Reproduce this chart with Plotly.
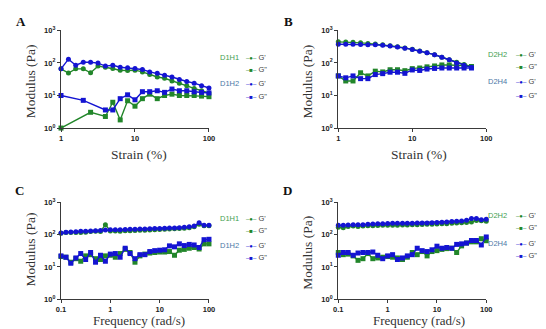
import plotly.graph_objects as go

# ---------------- data ----------------
strain_A = [1, 1.26, 1.58, 2, 2.51, 3.16, 3.98, 5.01, 6.31, 7.94, 10, 12.6, 15.8, 20, 25.1, 31.6, 39.8, 50.1, 63.1, 79.4, 100]
A_D1H1_Gp = [66, 49, 66, 66, 50, 80, 74, 68, 60, 59, 60, 53, 44, 37, 34, 28, 24, 20, 16.5, 14, 12]
A_D1H2_Gp = [66, 131, 85, 105, 105, 99, 80, 85, 74, 71, 68, 63, 53, 48, 42, 37, 31, 27, 24, 20, 17]
strain_A_D1H1_Gpp = [1, 2.51, 3.98, 5.01, 6.31, 7.94, 10, 12.6, 15.8, 20, 25.1, 31.6, 39.8, 50.1, 63.1, 79.4, 100]
A_D1H1_Gpp = [1.0, 3.05, 2.27, 6.2, 1.78, 6.9, 4.7, 8.0, 11, 8.0, 10, 11, 10, 10, 10, 9.6, 9.2]
strain_A_D1H2_Gpp = [1, 2, 3.98, 5.01, 6.31, 7.94, 10, 12.6, 15.8, 20, 25.1, 31.6, 39.8, 50.1, 63.1, 79.4, 100]
A_D1H2_Gpp = [10, 7.1, 3.6, 3.6, 8.0, 10.5, 7.4, 13.1, 13.1, 14, 12.5, 15.8, 14, 14, 13, 12.5, 12]

strain_B = [1, 1.26, 1.58, 2, 2.51, 3.16, 3.98, 5.01, 6.31, 7.94, 10, 12.6, 15.8, 20, 25.1, 31.6, 39.8, 50.1, 63.1]
B_D2H2_Gp = [445, 440, 430, 415, 400, 380, 360, 340, 315, 290, 265, 235, 205, 180, 150, 125, 105, 90, 78]
B_D2H2_Gpp = [40, 28, 28, 50, 40, 56, 53, 62, 62, 58, 67, 70, 76, 81, 87, 87, 87, 83, 78]
B_D2H4_Gp = [375, 375, 375, 370, 365, 360, 350, 330, 310, 285, 260, 230, 205, 180, 150, 125, 100, 85, 72]
B_D2H4_Gpp = [40, 35, 40, 33, 33, 44, 47, 52, 52, 48, 61, 59, 65, 68, 70, 70, 70, 70, 70]

freq = [0.1, 0.126, 0.158, 0.2, 0.251, 0.316, 0.398, 0.501, 0.631, 0.794, 1, 1.26, 1.58, 2, 2.51, 3.16, 3.98,
        5.01, 6.31, 7.94, 10, 12.6, 15.8, 20, 25.1, 31.6, 39.8, 50.1, 63.1, 79.4, 100]
C_D1H1_Gp = [110, 118, 118, 117, 118, 120, 125, 128, 125, 205, 130, 130, 128, 132, 132, 135, 138, 138, 140, 142,
             145, 148, 150, 152, 155, 158, 165, 175, 210, 190, 188]
C_D1H2_Gp = [112, 120, 122, 123, 127, 128, 130, 132, 135, 140, 142, 142, 143, 145, 147, 148, 150, 150, 152, 155,
             155, 158, 160, 162, 165, 170, 175, 185, 235, 195, 195]
C_D1H1_Gpp = [21, 20, 14, 18, 15, 22, 24, 18, 17, 22, 23, 20, 26, 35, 28, 14, 22, 25, 27, 28, 29, 29, 30, 23, 33,
              35, 38, 40, 36, 52, 52]
C_D1H2_Gpp = [22, 20, 13, 19, 26, 17, 28, 14, 23, 15, 25, 26, 20, 38, 26, 18, 24, 24, 30, 32, 33, 34, 45, 42, 52,
              46, 50, 48, 40, 70, 72]

D_D2H2_Gp = [170, 165, 180, 185, 180, 185, 190, 190, 192, 195, 195, 198, 198, 200, 200, 205, 205, 208, 210, 212,
             215, 218, 220, 225, 230, 235, 240, 250, 275, 270, 260]
D_D2H4_Gp = [195, 195, 200, 205, 205, 205, 210, 215, 218, 220, 222, 225, 225, 228, 228, 228, 230, 230, 232, 235,
             240, 245, 250, 255, 260, 265, 280, 320, 320, 290, 300]
D_D2H2_Gpp = [28, 24, 25, 22, 16, 18, 26, 18, 19, 20, 21, 20, 19, 17, 20, 28, 24, 30, 22, 30, 32, 35, 37, 38, 28,
              45, 55, 60, 60, 75, 65]
D_D2H4_Gpp = [23, 28, 28, 23, 27, 28, 28, 29, 23, 18, 22, 24, 17, 19, 22, 24, 38, 32, 30, 34, 44, 38, 40, 38, 50,
              52, 55, 66, 66, 48, 85]

y_tickvals = [1, 10, 100, 1000]
y_ticktext = ["10<sup>0</sup>", "10<sup>1</sup>", "10<sup>2</sup>", "10<sup>3</sup>"]
strain_ticks = [1, 10, 100]
strain_ticktext = ["1", "10", "100"]
freq_ticks = [0.1, 1, 10, 100]
freq_ticktext = ["0.1", "1", "10", "100"]

# ---------------- style ----------------
W, H = 546, 329
GREEN = "#22862a"
BLUE = "#1414d2"
LBL_GREEN = "#3f9e4f"
LBL_BLUE = "#4a78a6"
AXC = "#3a3a3a"

def px_x(p):
    return p / W

def px_y(p):
    return 1 - p / H

fig = go.Figure()

def add_series(x, y, color, symbol, xa, ya):
    fig.add_trace(go.Scatter(
        x=x, y=y, mode="lines+markers", xaxis=xa, yaxis=ya,
        line=dict(color=color, width=1.4),
        marker=dict(color=color, symbol=symbol, size=5),
        cliponaxis=False, showlegend=False, hoverinfo="skip"))

# Panel A
add_series(strain_A, A_D1H1_Gp, GREEN, "circle", "x", "y")
add_series(strain_A_D1H1_Gpp, A_D1H1_Gpp, GREEN, "square", "x", "y")
add_series(strain_A, A_D1H2_Gp, BLUE, "circle", "x", "y")
add_series(strain_A_D1H2_Gpp, A_D1H2_Gpp, BLUE, "square", "x", "y")
# Panel B
add_series(strain_B, B_D2H2_Gp, GREEN, "circle", "x2", "y2")
add_series(strain_B, B_D2H2_Gpp, GREEN, "square", "x2", "y2")
add_series(strain_B, B_D2H4_Gp, BLUE, "circle", "x2", "y2")
add_series(strain_B, B_D2H4_Gpp, BLUE, "square", "x2", "y2")
# Panel C
add_series(freq, C_D1H1_Gp, GREEN, "circle", "x3", "y3")
add_series(freq, C_D1H1_Gpp, GREEN, "square", "x3", "y3")
add_series(freq, C_D1H2_Gp, BLUE, "circle", "x3", "y3")
add_series(freq, C_D1H2_Gpp, BLUE, "square", "x3", "y3")
# Panel D
add_series(freq, D_D2H2_Gp, GREEN, "circle", "x4", "y4")
add_series(freq, D_D2H2_Gpp, GREEN, "square", "x4", "y4")
add_series(freq, D_D2H4_Gp, BLUE, "circle", "x4", "y4")
add_series(freq, D_D2H4_Gpp, BLUE, "square", "x4", "y4")

tickfont = dict(family="Liberation Sans, Arial", size=7.5, color="#222222", weight="bold")

def xaxis_cfg(dom, rng, tv, tt, anchor):
    return dict(type="log", domain=dom, range=rng, tickvals=tv, ticktext=tt, anchor=anchor,
                showline=True, linecolor=AXC, linewidth=1.4, ticks="outside", ticklen=3,
                tickwidth=1.2, tickcolor=AXC, showgrid=False, zeroline=False, tickfont=tickfont)

def yaxis_cfg(dom, anchor):
    return dict(type="log", domain=dom, range=[0, 3], tickvals=y_tickvals, ticktext=y_ticktext,
                anchor=anchor, showline=True, linecolor=AXC, linewidth=1.4, ticks="outside",
                ticklen=3, tickwidth=1.2, tickcolor=AXC, showgrid=False, zeroline=False,
                tickfont=tickfont)

xL = [px_x(49), px_x(200)]
xR = [px_x(332), px_x(483)]
yT = [px_y(118), px_y(17)]
yB = [px_y(295), px_y(195)]

fig.update_layout(
    width=W, height=H, margin=dict(l=0, r=0, t=0, b=0),
    paper_bgcolor="white", plot_bgcolor="white",
    xaxis=xaxis_cfg(xL, [0, 2], strain_ticks, strain_ticktext, "y"),
    yaxis=yaxis_cfg(yT, "x"),
    xaxis2=xaxis_cfg(xR, [0, 2], strain_ticks, strain_ticktext, "y2"),
    yaxis2=yaxis_cfg(yT, "x2"),
    xaxis3=xaxis_cfg(xL, [-1, 2], freq_ticks, freq_ticktext, "y3"),
    yaxis3=yaxis_cfg(yB, "x3"),
    xaxis4=xaxis_cfg(xR, [-1, 2], freq_ticks, freq_ticktext, "y4"),
    yaxis4=yaxis_cfg(yB, "x4"),
)

serif = "Liberation Serif, Times New Roman, serif"
ann = []

def text(x, y, s, size, color="#333333", family=serif, xanchor="center", angle=0, bold=False):
    f = dict(family=family, size=size, color=color)
    if bold:
        f["weight"] = "bold"
    ann.append(dict(x=px_x(x), y=px_y(y), xref="paper", yref="paper", text=s, showarrow=False,
                    font=f, xanchor=xanchor, yanchor="middle", textangle=angle, borderpad=0))

# panel letters
for lx, ly, s in [(8, 8, "A"), (281, 8, "B"), (7, 183, "C"), (280, 183, "D")]:
    text(lx, ly, s, 13, color="#111111", bold=True)

# axis titles
text(18, 70, "Modulus (Pa)", 13.5, angle=-90)
text(301, 70, "Modulus (Pa)", 13.5, angle=-90)
text(18, 244, "Modulus (Pa)", 13.5, angle=-90)
text(301, 247, "Modulus (Pa)", 13.5, angle=-90)
text(129, 145, "Strain (%)", 13.5)
text(414, 145, "Strain (%)", 13.5)
text(129, 317, "Frequency (rad/s)", 13)
text(414, 317, "Frequency (rad/s)", 13)

# legends
sans = "Liberation Sans, Arial"

def legend(gx, lx, rows, names):
    cols = [GREEN, GREEN, BLUE, BLUE]
    glyph = ["\u2013\u25cf\u2013", "\u2013\u25a0\u2013", "\u2013\u25cf\u2013", "\u2013\u25a0\u2013"]
    labs = ["G'", 'G"', "G'", 'G"']
    for i in range(4):
        s = "<span style='color:%s;font-size:6px'>%s</span> %s" % (cols[i], glyph[i], labs[i])
        ann.append(dict(x=px_x(lx), y=px_y(rows[i]), xref="paper", yref="paper", text=s,
                        showarrow=False, xanchor="left", yanchor="middle", borderpad=0,
                        font=dict(family=sans, size=7.5, color="#444444")))
    text(gx, rows[0], names[0], 7.5, color=LBL_GREEN, family=sans, xanchor="left")
    text(gx, rows[2], names[1], 7.5, color=LBL_BLUE, family=sans, xanchor="left")

legend(210, 237, [45, 57, 72, 85], ["D1H1", "D1H2"])
legend(484, 512, [42, 54, 70, 84], ["D2H2", "D2H4"])
legend(210, 237, [212, 224, 240, 252], ["D1H1", "D1H2"])
legend(484, 512, [208, 221, 237, 250], ["D2H2", "D2H4"])

fig.update_layout(annotations=ann)
fig.write_html("out.html")
